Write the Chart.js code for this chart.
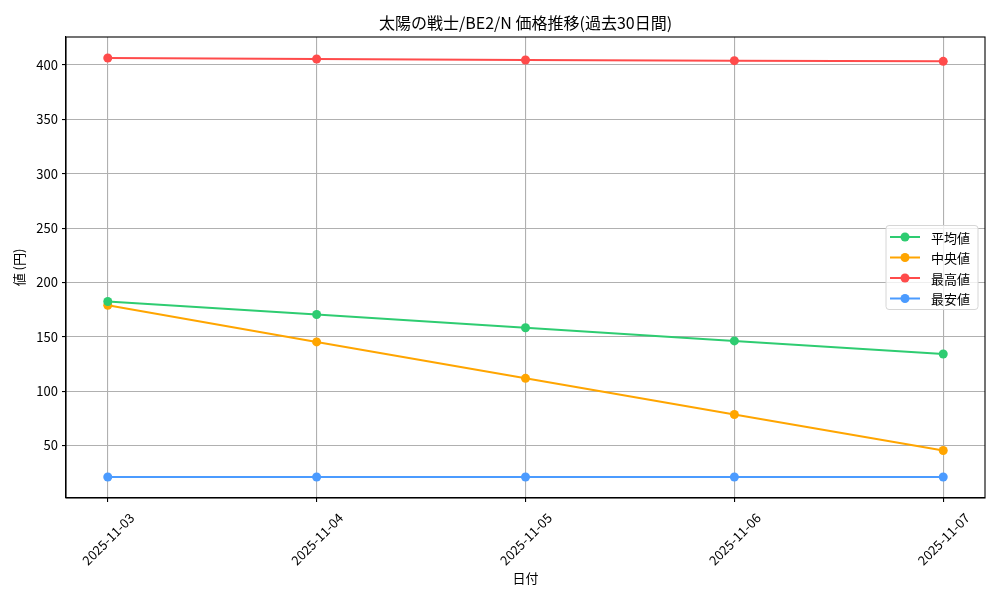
<!DOCTYPE html>
<html><head><meta charset="utf-8">
<script src="https://cdn.jsdelivr.net/npm/chart.js@4.4.0/dist/chart.umd.min.js"></script>
<style>html,body{margin:0;padding:0;background:#fff}#wrap{width:1000px;height:600px}</style>
</head><body><div id="wrap"><canvas id="c" width="1000" height="600"></canvas></div>
<script>
const dates = ["2025-11-03","2025-11-04","2025-11-05","2025-11-06","2025-11-07"];
const avgValues = [182.5, 170.5, 158.3, 146.2, 134.2];
const medianValues = [179, 145.3, 111.8, 78.5, 45.4];
const maxValues = [406.5, 405.5, 404.6, 404, 403.4];
const minValues = [21, 21, 21, 21, 21];
const seriesNames = ["平均値","中央値","最高値","最安値"];
const seriesColors = ["#2ecc71","#ffa500","#ff4b4b","#4b9bff"];
const titleText = "太陽の戦士/BE2/N 価格推移(過去30日間)";
const xTitle = "日付";
const yTitle = "値 (円)";
const FONT = "'Noto Sans CJK JP', 'DejaVu Sans', sans-serif";

const all = [].concat(avgValues, medianValues, maxValues, minValues);
const dmin = Math.min(...all), dmax = Math.max(...all);
const yMargin = (dmax - dmin) * 0.05;

const toPts = arr => arr.map((v, i) => ({x: i, y: v}));
const seriesData = [avgValues, medianValues, maxValues, minValues];

const frameLegend = {
  id: 'frameLegend',
  afterDraw(chart) {
    const ctx = chart.ctx, a = chart.chartArea;
    ctx.save();
    ctx.strokeStyle = '#000'; ctx.lineWidth = 1.1;
    ctx.strokeRect(a.left, a.top, a.right - a.left, a.bottom - a.top);
    ctx.fillStyle = '#000';
    ctx.font = '16px ' + FONT;
    ctx.textAlign = 'center'; ctx.textBaseline = 'middle';
    ctx.fillText(titleText, (a.left + a.right) / 2, 23);
    const ds = chart.data.datasets;
    const bw = 92, rowH = 20.5, bh = 84;
    const bx = a.right - 7 - bw, by = (a.top + a.bottom) / 2 - bh / 2;
    ctx.fillStyle = 'rgba(255,255,255,0.8)';
    ctx.strokeStyle = '#d6d6d6'; ctx.lineWidth = 1;
    ctx.beginPath();
    if (ctx.roundRect) ctx.roundRect(bx, by, bw, bh, 3); else ctx.rect(bx, by, bw, bh);
    ctx.fill(); ctx.stroke();
    ctx.font = '13px ' + FONT;
    ctx.textAlign = 'left';
    ds.forEach((d, i) => {
      const yy = by + 11.5 + i * rowH;
      ctx.strokeStyle = d.borderColor; ctx.lineWidth = 2;
      ctx.beginPath(); ctx.moveTo(bx + 4, yy); ctx.lineTo(bx + 34, yy); ctx.stroke();
      ctx.fillStyle = d.borderColor;
      ctx.beginPath(); ctx.arc(bx + 19, yy, 4.5, 0, Math.PI * 2); ctx.fill();
      ctx.fillStyle = '#000';
      ctx.fillText(d.label, bx + 45, yy + 1);
    });
    ctx.restore();
  }
};

new Chart(document.getElementById('c'), {
  type: 'line',
  data: {
    datasets: seriesData.map((arr, i) => ({
      label: seriesNames[i],
      data: toPts(arr),
      borderColor: seriesColors[i],
      backgroundColor: seriesColors[i],
      borderWidth: 2,
      pointRadius: 4.5,
      pointHoverRadius: 4.5,
      pointBorderWidth: 0,
      tension: 0,
      fill: false
    }))
  },
  options: {
    responsive: false,
    animation: false,
    events: [],
    layout: {padding: {left: 0, right: 15, top: 37, bottom: 0}},
    plugins: {legend: {display: false}, title: {display: false}, tooltip: {enabled: false}},
    scales: {
      x: {
        type: 'linear', min: -0.2, max: 4.2,
        afterFit(s) { s.height = 102; },
        border: {color: '#000', width: 1.1},
        grid: {color: '#b0b0b0', lineWidth: 1.1, tickColor: '#000', tickLength: 4},
        ticks: {
          stepSize: 1, includeBounds: false, autoSkip: false,
          maxRotation: 45, minRotation: 45, labelOffset: 24, padding: 8,
          color: '#000', font: {family: FONT, size: 13},
          callback: v => (Number.isInteger(v) && dates[v]) ? dates[v] : ''
        },
        title: {display: true, text: xTitle, color: '#000', font: {family: FONT, size: 13}, padding: {top: 0, bottom: 14}}
      },
      y: {
        min: dmin - yMargin, max: dmax + yMargin,
        afterFit(s) { s.width = 66; },
        border: {color: '#000', width: 1.1},
        grid: {color: '#b0b0b0', lineWidth: 1.1, tickColor: '#000', tickLength: 4},
        ticks: {stepSize: 50, includeBounds: false, color: '#000', padding: 4, font: {family: FONT, size: 13}},
        title: {display: true, text: yTitle, color: '#000', font: {family: FONT, size: 13}, padding: {top: 11, bottom: 0}}
      }
    }
  },
  plugins: [frameLegend]
});
</script></body></html>
